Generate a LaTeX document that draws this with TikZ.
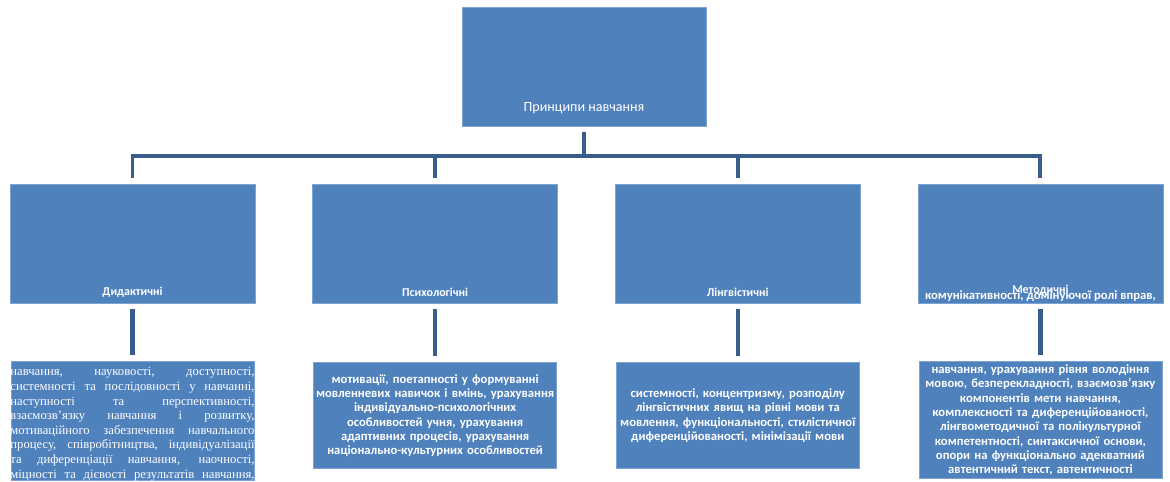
\documentclass[tikz,border=0pt]{standalone}
\usepackage{fontspec}
\setmainfont{Carlito}
\newfontfamily\serifua{Liberation Serif}
\usetikzlibrary{positioning}
\definecolor{boxblue}{RGB}{79,129,189}
\definecolor{linkblue}{RGB}{56,93,138}
\definecolor{edgeblue}{RGB}{125,163,210}

% one justified line of the didactic list
\newcommand{\fitline}[1]{\makebox[6.1cm][s]{#1}}

\begin{document}
\begin{tikzpicture}[x=0.025cm, y=-0.025cm,
    topbox/.style={fill=boxblue, draw=edgeblue, line width=0.4pt,
                   minimum width=6.1cm, minimum height=2.975cm, inner sep=0pt},
    catbox/.style={fill=boxblue, draw=edgeblue, line width=0.4pt,
                   minimum width=6.125cm, minimum height=2.975cm, inner sep=0pt},
    infobox/.style={fill=boxblue, draw=edgeblue, line width=0.4pt, text=white,
                    text width=6.075cm, inner sep=0pt, align=center,
                    font=\bfseries\fontsize{9}{10.2}\selectfont},
    catlabel/.style={text=white, inner sep=0pt, font=\bfseries\fontsize{8.5}{10}\selectfont},
    link/.style={draw=linkblue, line width=2.8pt}
]
    \useasboundingbox (0,0) rectangle (1170,481);

    \node[topbox] (principles) at (584,67) {};
    \node[text=white, inner sep=0pt, font=\fontsize{10}{12}\selectfont]
        (principleslbl) at ([yshift=0.475cm]principles.south) {Принципи навчання};

    \node[catbox] (didact) at (132.5,243.5) {};
    \node[catbox, right=1.425cm of didact] (psych) {};
    \node[catbox, right=1.425cm of psych] (ling) {};
    \node[catbox, right=1.425cm of ling] (method) {};

    \node[catlabel] (didactlbl) at ([yshift=0.275cm]didact.south) {Дидактичні};
    \node[catlabel] (psychlbl) at ([yshift=0.275cm]psych.south) {Психологічні};
    \node[catlabel] (linglbl) at ([yshift=0.275cm]ling.south) {Лінгвістичні};
    \node[catlabel] (methodlbl) at ([yshift=0.32cm]method.south) {Методичні};

    % lower boxes
    \node[infobox, minimum height=2.975cm, below=1.45cm of didact.south, anchor=north]
        (didactinfo) {};
    \node[infobox, minimum height=2.65cm, below=1.475cm of psych.south, anchor=north] (psychinfo) {%
        мотивації, поетапності у формуванні\\
        мовленневих навичок і вмінь, урахування\\
        індивідуально-психологічних\\
        особливостей учня, урахування\\
        адаптивних процесів, урахування\\
        національно-культурних особливостей};
    \node[infobox, minimum height=2.65cm, below=1.475cm of ling.south, anchor=north] (linginfo) {%
        системності, концентризму, розподілу\\
        лінгвістичних явищ на рівні мови та\\
        мовлення, функціональності, стилістичної\\
        диференційованості, мінімізації мови};
    \node[infobox, minimum height=2.925cm, below=1.45cm of method.south, anchor=north] (methodinfo) {%
        навчання, урахування рівня володіння\\
        мовою, безперекладності, взаємозв’язку\\
        компонентів мети навчання,\\
        комплексності та диференційованості,\\
        лінгвометодичної та полікультурної\\
        компетентності, синтаксичної основи,\\
        опори на функціонально адекватний\\
        автентичний текст, автентичності};

    % connectors
    \coordinate[below=0.725cm of principles.south] (hub);
    \draw[link, shorten <=0.125cm] (principles.south) -- (hub);
    \foreach \cat in {didact, psych, ling, method}
        \draw[link, shorten >=0.15cm] (hub) -| (\cat.north);
    \foreach \cat in {didact, psych, ling, method}
        \draw[link, line width=3.2pt, shorten <=0.15cm, shorten >=0.15cm]
            (\cat.south) -- (\cat info.north);

    \node[text=white, inner sep=0pt, align=center,
          font=\serifua\fontsize{9}{10.4}\selectfont]
        (didacttext) at ([yshift=-0.075cm]didactinfo.center) {%
        \fitline{навчання, науковості, доступності,}\\
        \fitline{системності та послідовності у навчанні,}\\
        \fitline{наступності та перспективності,}\\
        \fitline{взаємозв’язку навчання і розвитку,}\\
        \fitline{мотиваційного забезпечення навчального}\\
        \fitline{процесу, співробітництва, індивідуалізації}\\
        \fitline{та диференціації навчання, наочності,}\\
        \fitline{міцності та дієвості результатів навчання,}};

    \node[text=white, inner sep=0pt, font=\bfseries\fontsize{9}{10.2}\selectfont]
        (methodover) at ([yshift=0.175cm]method.south) {комунікативності, домінуючої ролі вправ,};
\end{tikzpicture}
\end{document}
